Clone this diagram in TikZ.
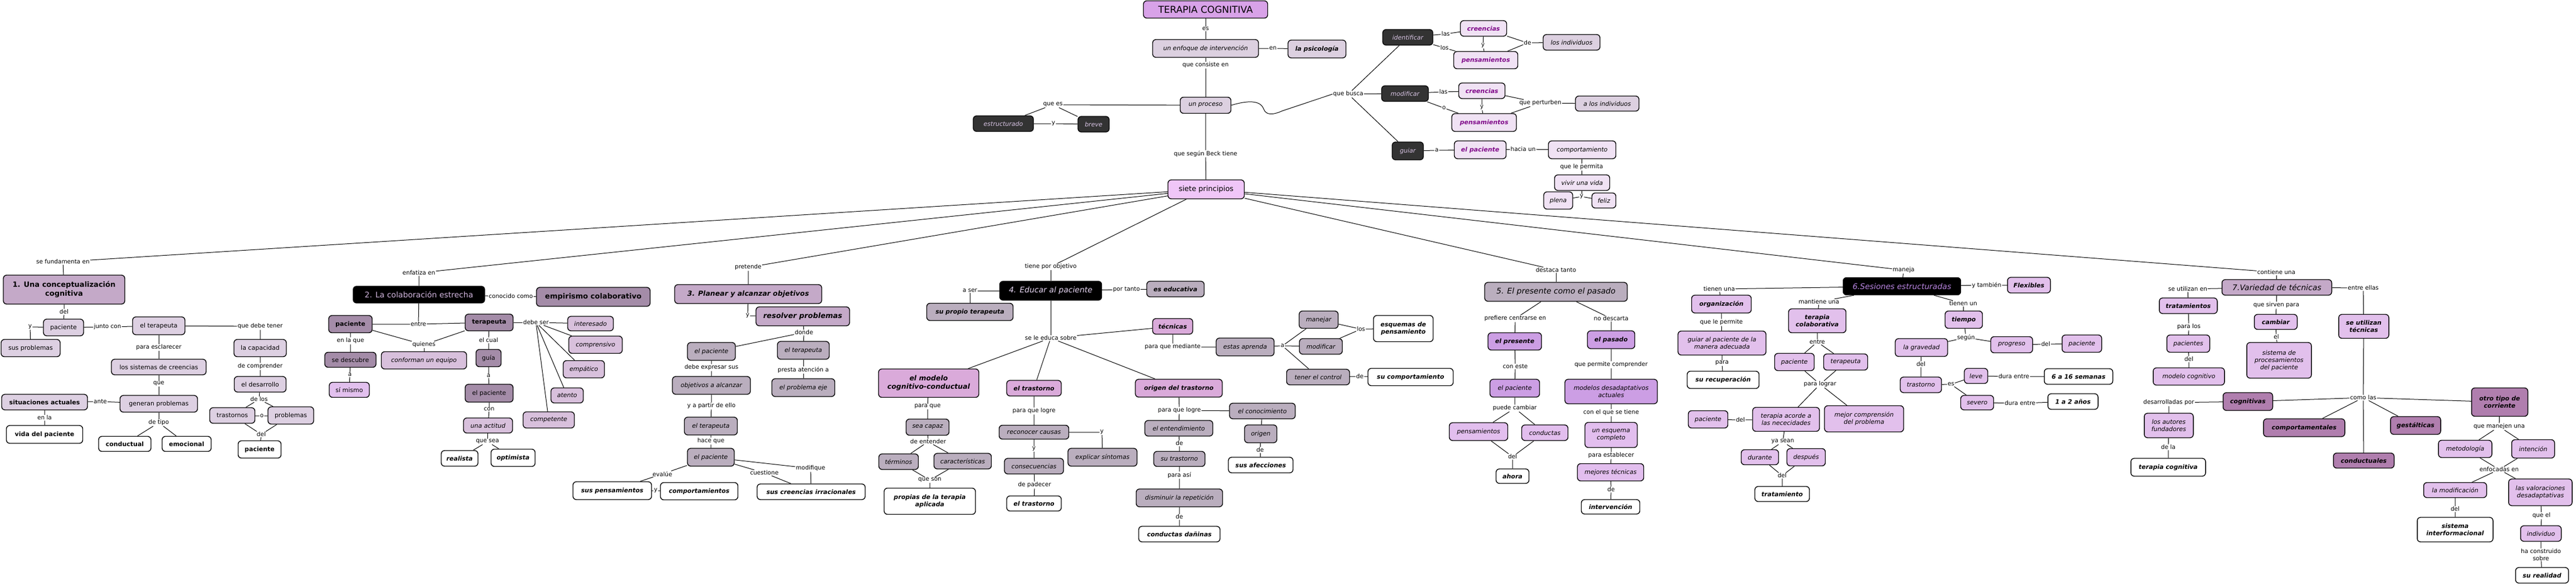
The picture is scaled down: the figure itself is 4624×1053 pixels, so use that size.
\documentclass[tikz,border=0pt]{standalone}
\usepackage{fontspec}
\setmainfont{DejaVu Sans}
\newcommand\myfs{\fontsize{11}{13}\selectfont}
\newcommand\mylfs{\fontsize{10.5}{12.5}\selectfont}
\definecolor{cTop}{HTML}{D8A2E8}
\definecolor{cSiete}{HTML}{F0C6F8}
\definecolor{cEnf}{HTML}{DCD0E0}
\definecolor{cDark}{HTML}{333333}
\definecolor{cDkTxt}{HTML}{D8C4E4}
\definecolor{cLight}{HTML}{F0E2F4}
\definecolor{cPurp}{HTML}{800A8A}
\definecolor{cOne}{HTML}{C4A9C8}
\definecolor{cOneN}{HTML}{DDD0E2}
\definecolor{cTwoN}{HTML}{A48CA8}
\definecolor{cTwoL}{HTML}{D8C0DC}
\definecolor{cSi}{HTML}{E2C0EE}
\definecolor{cThrN}{HTML}{BAAEBE}
\definecolor{cFouP}{HTML}{DAAADA}
\definecolor{cFivP}{HTML}{CC9EE4}
\definecolor{cFivL}{HTML}{E2BEEE}
\definecolor{cSix}{HTML}{E2C0EC}
\definecolor{cSevD}{HTML}{B07EAE}
\definecolor{cTwoTxt}{HTML}{D0B4DC}
\definecolor{cFouTxt}{HTML}{E4D4F0}
\definecolor{cSixTxt}{HTML}{B884E0}
\tikzset{
 box/.style={draw=black, line width=1.4pt, rounded corners=6pt, inner sep=2pt, align=center, font=\myfs},
 I/.style={font=\myfs\itshape},
 B/.style={font=\myfs\bfseries},
 BI/.style={font=\myfs\bfseries\itshape},
 dk/.style={fill=cDark, text=cDkTxt, I},
 lt/.style={fill=cLight, text=cPurp, BI},
 ltI/.style={fill=cLight, I},
 wh/.style={fill=white, BI},
 lbl/.style={fill=white, inner sep=1pt, align=center, font=\mylfs},
 conn/.style={draw=black, line width=1pt}
}
\newcommand\BX[6]{\node[box,#1,minimum width=#4pt,minimum height=#5pt] (#2) at (#3) {#6};}
\newcommand\LB[3]{\node[lbl] (#1) at (#2) {#3};}
\begin{document}
\begin{tikzpicture}[x=1pt,y=-1pt]
\fill[white] (0,0) rectangle (4624,1053);
\useasboundingbox (0,0) rectangle (4624,1053);

% ---------- top ----------
\BX{fill=cTop,font={\fontsize{17}{20}\selectfont}}{top}{2164,17}{223}{31}{TERAPIA COGNITIVA}
\BX{fill=cEnf,I}{enf}{2164,87}{190}{32}{un enfoque de intervención}
\BX{fill=cEnf,BI}{psi}{2364,88}{104}{32}{la psicología}
\BX{fill=cEnf,I}{proc}{2164,189}{91}{29}{un proceso}
\BX{dk}{estr}{1801,222}{108}{28}{estructurado}
\BX{dk}{breve}{1963,223}{56}{28}{breve}
\BX{fill=cSiete,font={\fontsize{13}{15}\selectfont}}{siete}{2165,340}{137}{34}{siete principios}
\BX{dk}{ident}{2527,67}{90}{28}{identificar}
\BX{dk}{modif}{2522,168}{84}{28}{modificar}
\BX{dk}{guiar}{2527,271}{56}{32}{guiar}
\BX{lt}{cre1}{2663,51}{83}{28}{creencias}
\BX{lt}{pen1}{2667,108}{115}{31}{pensamientos}
\BX{fill=cEnf,I}{losind}{2821,76}{102}{28}{los individuos}
\BX{lt}{cre2}{2660,163}{83}{28}{creencias}
\BX{lt}{pen2}{2664,220}{116}{32}{pensamientos}
\BX{fill=cEnf,I}{alosind}{2885,186}{114}{27}{a los individuos}
\BX{lt}{elpacT}{2657,269}{93}{32}{el paciente}
\BX{ltI}{comp}{2840,269}{121}{32}{comportamiento}
\BX{ltI}{vivir}{2840,328}{99}{28}{vivir una vida}
\BX{ltI}{plena}{2797,360}{52}{31}{plena}
\BX{ltI}{feliz}{2879,360}{43}{27}{feliz}

\LB{es}{2164,52}{es}
\LB{en}{2285,87}{en}
\LB{consiste}{2164,117}{que consiste en}
\LB{quees}{1890,188}{que es}
\LB{y1}{1891,222}{y}
\LB{beck}{2164,276}{que según Beck tiene}
\LB{busca}{2420,169}{que busca}
\LB{las1}{2595,61}{las}
\LB{los1}{2593,86}{los}
\LB{y2}{2662,82}{y}
\LB{de1}{2742,77}{de}
\LB{las2}{2591,165}{las}
\LB{o1}{2592,194}{o}
\LB{y3}{2660,193}{y}
\LB{pert}{2765,185}{que perturben}
\LB{a1}{2579,270}{a}
\LB{hacia}{2734,268}{hacia un}
\LB{permita}{2839,300}{que le permita}
\LB{y4}{2839,353}{y}

% ---------- 1 ----------
\BX{fill=cOne,font={\fontsize{13}{16}\selectfont\bfseries}}{s1}{115,520}{218}{52}{1. Una conceptualización\\cognitiva}
\BX{fill=cOneN}{pac1}{114,588}{72}{30}{paciente}
\BX{fill=cOneN}{susp}{55,625}{106}{31}{sus problemas}
\BX{fill=cOneN}{ter1}{285,585}{94}{32}{el terapeuta}
\BX{fill=cOneN}{cap}{467,625}{94}{31}{la capacidad}
\BX{fill=cOneN}{desa}{467,690}{93}{28}{el desarrollo}
\BX{fill=cOneN}{tras}{417,746}{81}{28}{trastornos}
\BX{fill=cOneN}{prob}{522,746}{82}{31}{problemas}
\BX{fill=white,B}{pac1b}{466,807}{77}{31}{paciente}
\BX{fill=cOneN}{sist}{285,659}{170}{28}{los sistemas de creencias}
\BX{fill=cOneN}{gen}{285,725}{139}{30}{generan problemas}
\BX{fill=cOneN,B}{sit}{80,722}{154}{28}{situaciones actuales}
\BX{fill=white,B}{vida}{80,780}{137}{32}{vida del paciente}
\BX{fill=white,B}{cond}{224,797}{94}{27}{conductual}
\BX{fill=white,B}{emo}{335,797}{88}{27}{emocional}

\LB{fund}{113,470}{se fundamenta en}
\LB{del1}{115,560}{del}
\LB{y5}{54,587}{y}
\LB{junto}{193,587}{junto con}
\LB{debe1}{467,586}{que debe tener}
\LB{compr}{467,658}{de comprender}
\LB{delos}{465,717}{de los}
\LB{o2}{470,747}{o}
\LB{del2}{469,780}{del}
\LB{escl}{285,624}{para esclarecer}
\LB{que1}{285,689}{que}
\LB{ante}{180,721}{ante}
\LB{enla}{80,750}{en la}
\LB{tipo}{285,759}{de tipo}

% ---------- 2 ----------
\BX{fill=black,text=cTwoTxt,font={\fontsize{14}{16}\selectfont}}{s2}{752,529}{236}{30}{2. La colaboración estrecha}
\BX{fill=cTwoN,font={\fontsize{13}{15}\selectfont\bfseries}}{emp}{1065,533}{204}{34}{empirismo colaborativo}
\BX{fill=cTwoN,B}{pac2}{629,582}{78}{31}{paciente}
\BX{fill=cTwoN,B}{ter2}{878,579}{86}{30}{terapeuta}
\BX{fill=cTwoL,I}{conf}{761,647}{153}{31}{conforman un equipo}
\BX{fill=cTwoN}{sedes}{629,646}{92}{27}{se descubre}
\BX{fill=cSi}{simismo}{627,700}{72}{27}{sí mismo}
\BX{fill=cTwoN}{guia}{877,643}{45}{31}{guía}
\BX{fill=cTwoN}{elpac2}{878,706}{86}{32}{el paciente}
\BX{fill=cTwoL,I}{actitud}{876,764}{88}{27}{una actitud}
\BX{wh}{real}{825,823}{66}{28}{realista}
\BX{wh}{opt}{921,822}{79}{31}{optimista}
\BX{fill=cTwoL,I}{inter}{1060,581}{82}{26}{interesado}
\BX{fill=cTwoL,I}{comprs}{1069,619}{96}{31}{comprensivo}
\BX{fill=cTwoL,I}{empa}{1048,663}{74}{31}{empático}
\BX{fill=cTwoL,I}{aten}{1018,710}{58}{27}{atento}
\BX{fill=cTwoL,I}{compe}{985,754}{92}{29}{competente}

\LB{enfat}{752,490}{enfatiza en}
\LB{conoc}{917,532}{conocido como}
\LB{entre1}{751,582}{entre}
\LB{quien}{761,619}{quienes}
\LB{enlaque}{629,612}{en la que}
\LB{a2}{628,673}{a}
\LB{cual}{877,611}{el cual}
\LB{a3}{877,675}{a}
\LB{con1}{878,735}{con}
\LB{sea1}{875,793}{que sea}
\LB{debeser}{962,579}{debe ser}

% ---------- 3 ----------
\BX{fill=cOne,font={\fontsize{12.5}{15}\selectfont\bfseries\itshape}}{s3}{1343,528}{264}{34}{3. Planear y alcanzar objetivos}
\BX{fill=cOne,font={\fontsize{13}{15}\selectfont\bfseries\itshape}}{resol}{1441,568}{168}{34}{resolver problemas}
\BX{fill=cThrN,I}{pac3}{1277,631}{86}{32}{el paciente}
\BX{fill=cThrN,I}{ter3}{1442,629}{93}{32}{el terapeuta}
\BX{fill=cThrN,I}{obj}{1277,692}{140}{32}{objetivos a alcanzar}
\BX{fill=cThrN,I}{eje}{1442,696}{113}{32}{el problema eje}
\BX{fill=cThrN,I}{ter3b}{1276,765}{95}{32}{el terapeuta}
\BX{fill=cThrN,I}{pac3b}{1276,821}{84}{32}{el paciente}
\BX{wh}{susp2}{1099,881}{141}{32}{sus pensamientos}
\BX{wh}{comps}{1255,882}{139}{31}{comportamientos}
\BX{wh}{creirr}{1456,883}{194}{28}{sus creencias irracionales}

\LB{pret}{1343,480}{pretende}
\LB{y6}{1342,567}{y}
\LB{donde}{1443,597}{donde}
\LB{expr}{1277,660}{debe expresar sus}
\LB{presta}{1442,664}{presta atención a}
\LB{partir}{1277,729}{y a partir de ello}
\LB{hace}{1276,792}{hace que}
\LB{evalue}{1189,851}{evalúe}
\LB{y7}{1177,881}{y}
\LB{cuest}{1372,849}{cuestione}
\LB{modifq}{1455,841}{modifique}

% ---------- 4 ----------
\BX{fill=black,text=cFouTxt,font={\fontsize{14}{16}\selectfont\itshape}}{s4}{1886,522}{183}{34}{4. Educar al paciente}
\BX{fill=cThrN,BI}{propio}{1741,560}{155}{31}{su propio terapeuta}
\BX{fill=cThrN,BI}{educ}{2110,519}{103}{28}{es educativa}
\BX{fill=cFouP,BI}{tec}{2105,586}{72}{28}{técnicas}
\BX{fill=cThrN,I}{estas}{2235,623}{104}{32}{estas aprenda}
\BX{fill=cThrN,I}{manejar}{2367,574}{70}{31}{manejar}
\BX{fill=cThrN,I}{modif2}{2371,622}{77}{28}{modificar}
\BX{fill=cThrN,I}{tener}{2366,677}{113}{28}{tener el control}
\BX{wh}{esq}{2519,590}{107}{47}{esquemas de\\pensamiento}
\BX{wh}{sucomp}{2532,677}{153}{31}{su comportamiento}
\BX{fill=cFouP,font={\fontsize{12.5}{15}\selectfont\bfseries\itshape}}{modelo}{1667,688}{180}{51}{el modelo\\cognitivo-conductual}
\BX{fill=cThrN,I}{sea}{1665,767}{77}{29}{sea capaz}
\BX{fill=cThrN,I}{term}{1613,829}{71}{28}{términos}
\BX{fill=cThrN,I}{caract}{1728,828}{103}{28}{características}
\BX{wh}{propias}{1669,900}{164}{47}{propias de la terapia\\aplicada}
\BX{fill=cFouP,BI}{trast}{1856,697}{98}{28}{el trastorno}
\BX{fill=cThrN,I}{recon}{1856,776}{125}{25}{reconocer causas}
\BX{fill=cThrN,I}{expl}{1979,821}{124}{32}{explicar síntomas}
\BX{fill=cThrN,I}{cons}{1856,837}{106}{28}{consecuencias}
\BX{wh}{trast2}{1856,904}{98}{27}{el trastorno}
\BX{fill=cFouP,BI}{origen}{2116,697}{156}{32}{origen del trastorno}
\BX{fill=cThrN,I}{conoc4}{2266,738}{118}{28}{el conocimiento}
\BX{fill=cThrN,I}{entend}{2116,769}{122}{28}{el entendimiento}
\BX{fill=cThrN,I}{sutras}{2117,824}{92}{27}{su trastorno}
\BX{fill=cThrN,I}{dism}{2117,894}{155}{32}{disminuir la repetición}
\BX{wh}{danin}{2117,959}{146}{28}{conductas dañinas}
\BX{fill=cThrN,I}{orig2}{2263,779}{58}{32}{origen}
\BX{wh}{afec}{2263,835}{116}{28}{sus afecciones}

\LB{tpo}{1886,479}{tiene por objetivo}
\LB{aser}{1741,522}{a ser}
\LB{portanto}{2022,520}{por tanto}
\LB{educa}{1886,607}{se le educa sobre}
\LB{mediante}{2105,623}{para que mediante}
\LB{a4}{2302,621}{a}
\LB{los2}{2443,591}{los}
\LB{de2}{2441,676}{de}
\LB{paraque}{1665,730}{para que}
\LB{entender}{1666,793}{de entender}
\LB{queson}{1669,862}{que son}
\LB{logre1}{1856,738}{para que logre}
\LB{y8}{1856,806}{y}
\LB{y9}{1978,776}{y}
\LB{padecer}{1857,871}{de padecer}
\LB{logre2}{2117,737}{para que logre}
\LB{de4}{2117,796}{de}
\LB{asi}{2117,853}{para así}
\LB{de5}{2117,928}{de}
\LB{de3}{2262,808}{de}

% ---------- 5 ----------
\BX{fill=cThrN,font={\fontsize{14}{16}\selectfont\itshape}}{s5}{2793,524}{256}{34}{5. El presente como el pasado}
\BX{fill=cFivP,BI}{pres}{2719,613}{96}{31}{el presente}
\BX{fill=cFivP,BI}{pas}{2892,610}{85}{32}{el pasado}
\BX{fill=cFivP,I}{pac5}{2719,697}{89}{32}{el paciente}
\BX{fill=cFivL,I}{pens5}{2654,775}{105}{32}{pensamientos}
\BX{fill=cFivL,I}{cond5}{2773,777}{83}{28}{conductas}
\BX{wh}{ahora}{2715,855}{59}{26}{ahora}
\BX{fill=cFivP,I}{modelos}{2892,703}{166}{44}{modelos desadaptativos\\actuales}
\BX{fill=cFivL,I}{esquema}{2892,781}{94}{45}{un esquema\\completo}
\BX{fill=cFivL,I}{mejores}{2891,848}{119}{31}{mejores técnicas}
\BX{wh}{interv}{2891,910}{105}{26}{intervención}

\LB{dest}{2793,485}{destaca tanto}
\LB{pref}{2720,572}{prefiere centrarse en}
\LB{nodesc}{2892,572}{no descarta}
\LB{coneste}{2720,658}{con este}
\LB{cambiar}{2719,733}{puede cambiar}
\LB{del5}{2715,820}{del}
\LB{permite}{2892,655}{que permite comprender}
\LB{tiene}{2892,741}{con el que se tiene}
\LB{estab}{2892,818}{para establecer}
\LB{de6}{2892,879}{de}

% ---------- 6 ----------
\BX{fill=black,text=cSixTxt,font={\fontsize{14}{16}\selectfont\itshape}}{s6}{3414,514}{211}{31}{6.Sesiones estructuradas}
\BX{fill=cSix,BI}{org}{3090,546}{107}{32}{organización}
\BX{fill=cSix,I}{guiarp}{3091,616}{158}{43}{guiar al paciente de la\\manera adecuada}
\BX{wh}{recup}{3093,682}{129}{31}{su recuperación}
\BX{fill=cSix,BI}{tcol}{3262,576}{103}{43}{terapia\\colaborativa}
\BX{fill=cSix,I}{pac6}{3221,650}{71}{31}{paciente}
\BX{fill=cSix,I}{ter6}{3313,650}{79}{29}{terapeuta}
\BX{fill=cSix,I}{acorde}{3206,753}{120}{43}{terapia acorde a\\las nececidades}
\BX{fill=cSix,I}{mejor}{3346,752}{142}{47}{mejor comprensión\\del problema}
\BX{fill=cSix,I}{pac6b}{3066,753}{71}{31}{paciente}
\BX{fill=cSix,I}{durante}{3159,821}{67}{27}{durante}
\BX{fill=cSix,I}{despues}{3242,821}{69}{31}{después}
\BX{wh}{trat}{3199,887}{98}{27}{tratamiento}
\BX{fill=cSix,BI}{flex}{3642,512}{77}{28}{Flexibles}
\BX{fill=cSix,BI}{tiempo}{3525,574}{67}{31}{tiempo}
\BX{fill=cSix,I}{grav}{3449,624}{94}{32}{la gravedad}
\BX{fill=cSix,I}{prog}{3611,619}{75}{29}{progreso}
\BX{fill=cSix,I}{pac6c}{3737,617}{71}{31}{paciente}
\BX{fill=cSix,I}{trast6}{3448,691}{74}{28}{trastorno}
\BX{fill=cSix,I}{leve}{3547,675}{42}{27}{leve}
\BX{fill=cSix,I}{sev}{3549,723}{59}{26}{severo}
\BX{wh}{sem}{3731,676}{123}{28}{6 a 16 semanas}
\BX{wh}{anos}{3721,721}{90}{28}{1 a 2 años}

\LB{manj}{3417,485}{maneja}
\LB{tienenuna}{3086,519}{tienen una}
\LB{lepermite}{3090,579}{que le permite}
\LB{para1}{3091,652}{para}
\LB{mantiene}{3265,542}{mantiene una}
\LB{entre2}{3262,614}{entre}
\LB{lograr}{3267,690}{para lograr}
\LB{del6}{3124,754}{del}
\LB{sean}{3200,793}{ya sean}
\LB{del7}{3199,854}{del}
\LB{tambien}{3566,512}{y también}
\LB{tienenun}{3524,545}{tienen un}
\LB{segun}{3529,606}{según}
\LB{del8}{3672,618}{del}
\LB{del9}{3448,654}{del}
\LB{es1}{3502,690}{es}
\LB{dura1}{3615,676}{dura entre}
\LB{dura2}{3626,724}{dura entre}

% ---------- 7 ----------
\BX{fill=cOne,font={\fontsize{14}{16}\selectfont\itshape}}{s7}{4087,516}{197}{28}{7.Variedad de técnicas}
\BX{fill=cSix,BI}{tratam}{3928,549}{104}{28}{tratamientos}
\BX{fill=cSix,I}{pacs}{3928,617}{77}{31}{pacientes}
\BX{fill=cSix,I}{modcog}{3929,676}{128}{31}{modelo cognitivo}
\BX{fill=cSix,BI}{camb7}{4085,578}{77}{27}{cambiar}
\BX{fill=cSix,I}{sistema}{4091,647}{116}{64}{sistema de\\procesamientos\\del paciente}
\BX{fill=cSix,BI}{seut}{4243,586}{90}{43}{se utilizan\\técnicas}
\BX{fill=cSevD,BI}{cognit}{4035,721}{89}{32}{cognitivas}
\BX{fill=cSix,I}{autores}{3893,764}{88}{44}{los autores\\fundadores}
\BX{wh}{tcog}{3892,839}{134}{32}{terapia cognitiva}
\BX{fill=cSevD,BI}{comport}{4136,768}{146}{32}{comportamentales}
\BX{fill=cSevD,BI}{gest}{4336,764}{90}{32}{gestálticas}
\BX{fill=cSevD,BI}{conduct}{4243,827}{109}{27}{conductuales}
\BX{fill=cSevD,BI}{otro}{4487,722}{101}{51}{otro tipo de\\corriente}
\BX{fill=cSix,I}{metod}{4425,806}{96}{31}{metodología}
\BX{fill=cSix,I}{inten}{4547,806}{77}{33}{intención}
\BX{fill=cSix,I}{lamod}{4407,880}{113}{27}{la modificación}
\BX{fill=cSix,I}{lasval}{4560,884}{114}{48}{las valoraciones\\desadaptativas}
\BX{wh}{sisint}{4407,951}{136}{44}{sistema\\interformacional}
\BX{fill=cSix,I}{indiv}{4561,958}{73}{28}{individuo}
\BX{wh}{sureal}{4563,1033}{95}{28}{su realidad}

\LB{cont}{4086,489}{contiene una}
\LB{utilen}{3927,519}{se utilizan en}
\LB{paralos}{3929,587}{para los}
\LB{del10}{3929,645}{del}
\LB{sirven}{4086,548}{que sirven para}
\LB{el1}{4086,605}{el}
\LB{ellas}{4242,517}{entre ellas}
\LB{comolas}{4242,714}{como las}
\LB{desarr}{3893,723}{desarrolladas por}
\LB{dela}{3892,803}{de la}
\LB{manejen}{4486,766}{que manejen una}
\LB{enfoc}{4486,843}{enfocadas en}
\LB{del11}{4407,914}{del}
\LB{queel}{4562,926}{que el}
\LB{construido}{4561,996}{ha construido\\sobre}

% ========== connectors ==========
\draw[conn] (top) -- (es) -- (enf);
\draw[conn] (enf) -- (en) -- (psi);
\draw[conn] (enf) -- (consiste) -- (proc);
\draw[conn] (proc) -- (quees);
\draw[conn] (quees) -- (estr);
\draw[conn] (quees) -- (breve);
\draw[conn] (estr) -- (y1) -- (breve);
\draw[conn] (proc) -- (beck) -- (siete);
\draw[conn] (proc.east) .. controls (2240,180) and (2262,180) .. (2268,195) .. controls (2272,207) and (2284,207) .. (2302,199) -- (busca.west);
\draw[conn] (busca) -- (ident);
\draw[conn] (busca) -- (modif);
\draw[conn] (busca) -- (guiar);
\draw[conn] (ident) -- (las1) -- (cre1);
\draw[conn] (ident) -- (los1) -- (pen1);
\draw[conn] (cre1) -- (y2) -- (pen1);
\draw[conn] (cre1) -- (de1) -- (losind);
\draw[conn] (pen1) -- (de1);
\draw[conn] (modif) -- (las2) -- (cre2);
\draw[conn] (modif) -- (o1) -- (pen2);
\draw[conn] (cre2) -- (y3) -- (pen2);
\draw[conn] (cre2) -- (pert) -- (alosind);
\draw[conn] (pen2) -- (pert);
\draw[conn] (guiar) -- (a1) -- (elpacT) -- (hacia) -- (comp) -- (permita) -- (vivir) -- (y4);
\draw[conn] (plena) -- (y4) -- (feliz);

\foreach \l in {fund,enfat,pret,tpo,dest,manj,cont} \draw[conn] (siete) -- (\l);

% 1
\draw[conn] (fund) -- (s1);
\draw[conn] (s1) -- (del1) -- (pac1);
\draw[conn] (pac1) -- (y5) -- (susp);
\draw[conn] (pac1) -- (junto) -- (ter1) -- (debe1) -- (cap) -- (compr) -- (desa) -- (delos);
\draw[conn] (delos) -- (tras);
\draw[conn] (delos) -- (prob);
\draw[conn] (tras) -- (o2) -- (prob);
\draw[conn] (tras) -- (del2);
\draw[conn] (prob) -- (del2) -- (pac1b);
\draw[conn] (ter1) -- (escl) -- (sist) -- (que1) -- (gen) -- (tipo);
\draw[conn] (tipo) -- (cond);
\draw[conn] (tipo) -- (emo);
\draw[conn] (gen) -- (ante) -- (sit) -- (enla) -- (vida);

% 2
\draw[conn] (enfat) -- (s2) -- (conoc) -- (emp);
\draw[conn] (s2) -- (entre1);
\draw[conn] (pac2) -- (entre1) -- (ter2);
\draw[conn] (pac2) -- (quien) -- (ter2);
\draw[conn] (quien) -- (conf);
\draw[conn] (pac2) -- (enlaque) -- (sedes) -- (a2) -- (simismo);
\draw[conn] (ter2) -- (cual) -- (guia) -- (a3) -- (elpac2) -- (con1) -- (actitud) -- (sea1);
\draw[conn] (sea1) -- (real);
\draw[conn] (sea1) -- (opt);
\draw[conn] (ter2) -- (debeser);
\foreach \n in {inter,comprs,empa,aten,compe} \draw[conn] (debeser) -- (\n);

% 3
\draw[conn] (pret) -- (s3) -- (y6) -- (resol) -- (donde);
\draw[conn] (donde) -- (pac3);
\draw[conn] (donde) -- (ter3);
\draw[conn] (pac3) -- (expr) -- (obj) -- (partir) -- (ter3b) -- (hace) -- (pac3b);
\draw[conn] (ter3) -- (presta) -- (eje);
\draw[conn] (pac3b) -- (evalue) -- (susp2) -- (y7) -- (comps);
\draw[conn] (pac3b) -- (cuest) -- (creirr);
\draw[conn] (pac3b) -- (modifq) -- (creirr);

% 4
\draw[conn] (tpo) -- (s4);
\draw[conn] (s4) -- (aser) -- (propio);
\draw[conn] (s4) -- (portanto) -- (educ);
\draw[conn] (s4) -- (educa);
\draw[conn] (educa) -- (tec);
\draw[conn] (educa) -- (modelo);
\draw[conn] (educa) -- (trast);
\draw[conn] (educa) -- (origen);
\draw[conn] (tec) -- (mediante) -- (estas) -- (a4);
\draw[conn] (a4) -- (manejar);
\draw[conn] (a4) -- (modif2);
\draw[conn] (a4) -- (tener);
\draw[conn] (manejar) -- (los2);
\draw[conn] (modif2) -- (los2) -- (esq);
\draw[conn] (tener) -- (de2) -- (sucomp);
\draw[conn] (modelo) -- (paraque) -- (sea) -- (entender);
\draw[conn] (entender) -- (term);
\draw[conn] (entender) -- (caract);
\draw[conn] (term) -- (queson);
\draw[conn] (caract) -- (queson) -- (propias);
\draw[conn] (trast) -- (logre1) -- (recon) -- (y8) -- (cons) -- (padecer) -- (trast2);
\draw[conn] (recon) -- (y9) -- (expl);
\draw[conn] (origen) -- (logre2) -- (entend) -- (de4) -- (sutras) -- (asi) -- (dism) -- (de5) -- (danin);
\draw[conn] (logre2) -- (conoc4) -- (orig2) -- (de3) -- (afec);

% 5
\draw[conn] (dest) -- (s5);
\draw[conn] (s5) -- (pref) -- (pres) -- (coneste) -- (pac5) -- (cambiar);
\draw[conn] (cambiar) -- (pens5);
\draw[conn] (cambiar) -- (cond5);
\draw[conn] (pens5) -- (del5);
\draw[conn] (cond5) -- (del5) -- (ahora);
\draw[conn] (s5) -- (nodesc) -- (pas) -- (permite) -- (modelos) -- (tiene) -- (esquema) -- (estab) -- (mejores) -- (de6) -- (interv);

% 6
\draw[conn] (manj) -- (s6);
\draw[conn] (s6) -- (tienenuna) -- (org) -- (lepermite) -- (guiarp) -- (para1) -- (recup);
\draw[conn] (s6) -- (mantiene) -- (tcol) -- (entre2);
\draw[conn] (entre2) -- (pac6);
\draw[conn] (entre2) -- (ter6);
\draw[conn] (pac6) -- (lograr);
\draw[conn] (ter6) -- (lograr);
\draw[conn] (lograr) -- (acorde);
\draw[conn] (lograr) -- (mejor);
\draw[conn] (pac6b) -- (del6) -- (acorde) -- (sean);
\draw[conn] (sean) -- (durante);
\draw[conn] (sean) -- (despues);
\draw[conn] (durante) -- (del7);
\draw[conn] (despues) -- (del7) -- (trat);
\draw[conn] (s6) -- (tambien) -- (flex);
\draw[conn] (s6) -- (tienenun) -- (tiempo) -- (segun);
\draw[conn] (segun) -- (grav);
\draw[conn] (segun) -- (prog) -- (del8) -- (pac6c);
\draw[conn] (grav) -- (del9) -- (trast6) -- (es1);
\draw[conn] (es1) -- (leve) -- (dura1) -- (sem);
\draw[conn] (es1) -- (sev) -- (dura2) -- (anos);

% 7
\draw[conn] (cont) -- (s7);
\draw[conn] (s7) -- (utilen) -- (tratam) -- (paralos) -- (pacs) -- (del10) -- (modcog);
\draw[conn] (s7) -- (sirven) -- (camb7) -- (el1) -- (sistema);
\draw[conn] (s7) -- (ellas) -- (seut) -- (comolas) -- (conduct);
\draw[conn] (comolas) -- (cognit) -- (desarr) -- (autores) -- (dela) -- (tcog);
\draw[conn] (comolas) -- (comport);
\draw[conn] (comolas) -- (gest);
\draw[conn] (comolas) -- (otro) -- (manejen);
\draw[conn] (manejen) -- (metod);
\draw[conn] (manejen) -- (inten);
\draw[conn] (metod) -- (enfoc);
\draw[conn] (inten) -- (enfoc);
\draw[conn] (enfoc) -- (lamod) -- (del11) -- (sisint);
\draw[conn] (enfoc) -- (lasval) -- (queel) -- (indiv) -- (construido) -- (sureal);
\end{tikzpicture}
\end{document}
